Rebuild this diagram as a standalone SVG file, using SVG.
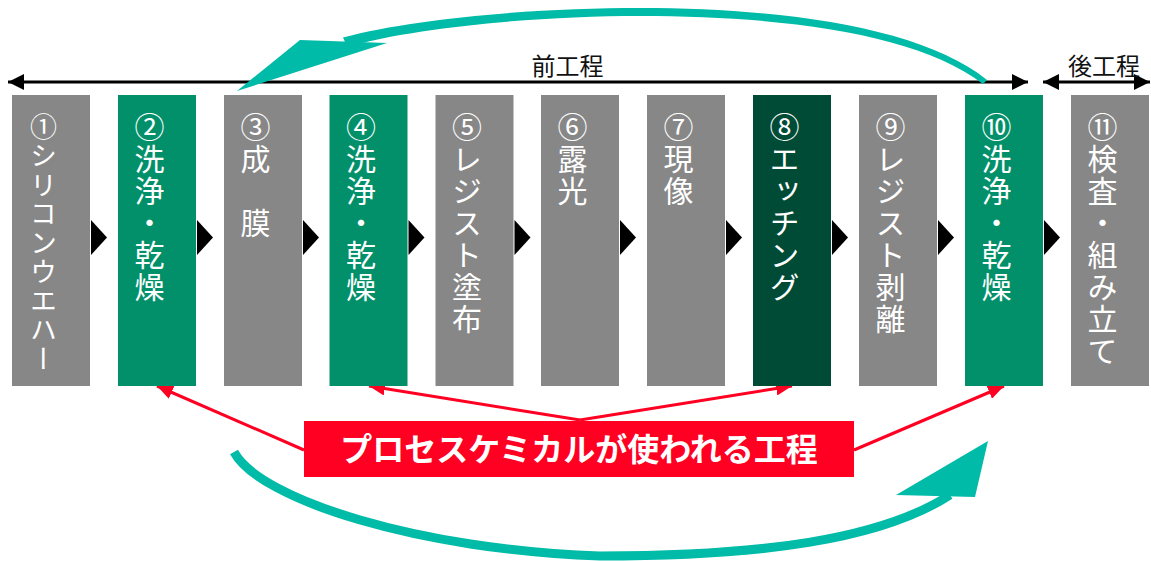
<svg xmlns="http://www.w3.org/2000/svg" width="1151" height="561" viewBox="0 0 1151 561">
<defs>
<style>
.node-grey{fill:#878787}
.node-green{fill:#02906A}
.node-dark{fill:#004B35}
.ntext{font-family:"Noto Sans CJK JP","Noto Sans",sans-serif;font-size:30px;fill:#ffffff;writing-mode:vertical-rl;text-orientation:upright;letter-spacing:2px}
.ntext-s{font-size:27px}
.lbl{font-family:"Noto Sans CJK JP","Noto Sans",sans-serif;font-size:24px;fill:#111111;text-anchor:middle;dominant-baseline:central}
.step{fill:#000000}
.axis{stroke:#000000;stroke-width:3;fill:none}
.red{stroke:#FF0022;stroke-width:3;fill:none;marker-end:url(#redHead)}
.teal{stroke:#00BBA7;fill:none;stroke-linecap:butt}
.teal-fill{fill:#00BBA7}
</style>
<marker id="redHead" markerUnits="userSpaceOnUse" viewBox="0 0 16 14" refX="16" refY="7" markerWidth="16" markerHeight="14" orient="auto">
<path d="M0,0 L16,7 L0,14 Z" fill="#FF0022"/>
</marker>
<marker id="blkHead" markerUnits="userSpaceOnUse" viewBox="0 0 16 16" refX="16" refY="8" markerWidth="16" markerHeight="16" orient="auto-start-reverse">
<path d="M0,0 L16,8 L0,16 Z" fill="#000000"/>
</marker>
</defs>

<g id="connectors">
<!-- axis arrows -->
<path class="axis" d="M8,82 L1028,82" marker-start="url(#blkHead)" marker-end="url(#blkHead)"/>
<path class="axis" d="M1043,82 L1150,82" marker-start="url(#blkHead)" marker-end="url(#blkHead)"/>
<!-- step triangles -->
<polygon class="step" points="91,220 107,237.5 91,255"/>
<polygon class="step" points="197,220 213,237.5 197,255"/>
<polygon class="step" points="303,220 319,237.5 303,255"/>
<polygon class="step" points="408.5,220 424.5,237.5 408.5,255"/>
<polygon class="step" points="514.5,220 530.5,237.5 514.5,255"/>
<polygon class="step" points="620,220 636,237.5 620,255"/>
<polygon class="step" points="726,220 742,237.5 726,255"/>
<polygon class="step" points="832,220 848,237.5 832,255"/>
<polygon class="step" points="938,220 954,237.5 938,255"/>
<polygon class="step" points="1044,220 1060,237.5 1044,255"/>
<!-- teal top arc (tapered band) -->
<path class="teal-fill" d="M987,80 C922,27 780,8 640,8 C540,8 418,17.5 343,37.5 L347,46.5 C422,26.5 540,16 640,16 C780,16 918,33 983,84 Z"/>
<polygon class="teal-fill" points="237,91 300,40 387,43"/>
<!-- teal bottom arc -->
<path class="teal" stroke-width="9" d="M234,452 C260,500 420,550 600,556 C760,556 880,540 950,495"/>
<polygon class="teal-fill" points="988,441 896,495 975,497"/>
<!-- red arrows -->
<path class="red" d="M304,450 L157,386"/>
<path class="red" d="M580,420 L369,386"/>
<path class="red" d="M580,420 L792,386"/>
<path class="red" d="M854,450 L1004,386"/>
</g>

<g id="label-front"><text class="lbl" x="567.5" y="64.5">前工程</text></g>
<g id="label-back"><text class="lbl" x="1104" y="64.5">後工程</text></g>

<g id="node1"><rect class="node-grey" x="12" y="95" width="78" height="291"/><text class="ntext ntext-s" x="43.5" y="113">①シリコンウエハー</text></g>
<g id="node2"><rect class="node-green" x="118" y="95" width="78" height="291"/><text class="ntext" x="149.5" y="112">②洗浄・乾燥</text></g>
<g id="node3"><rect class="node-grey" x="224" y="95" width="78" height="291"/><text class="ntext" x="255.5" y="112">③成　膜</text></g>
<g id="node4"><rect class="node-green" x="329.5" y="95" width="78" height="291"/><text class="ntext" x="361" y="112">④洗浄・乾燥</text></g>
<g id="node5"><rect class="node-grey" x="435.5" y="95" width="78" height="291"/><text class="ntext" x="467" y="112">⑤レジスト塗布</text></g>
<g id="node6"><rect class="node-grey" x="541" y="95" width="78" height="291"/><text class="ntext" x="572.5" y="112">⑥露光</text></g>
<g id="node7"><rect class="node-grey" x="647" y="95" width="78" height="291"/><text class="ntext" x="678.5" y="112">⑦現像</text></g>
<g id="node8"><rect class="node-dark" x="753" y="95" width="78" height="291"/><text class="ntext" x="784.5" y="112">⑧エッチング</text></g>
<g id="node9"><rect class="node-grey" x="859" y="95" width="78" height="291"/><text class="ntext" x="890.5" y="112">⑨レジスト剥離</text></g>
<g id="node10"><rect class="node-green" x="965" y="95" width="78" height="291"/><text class="ntext" x="996.5" y="112">⑩洗浄・乾燥</text></g>
<g id="node11"><rect class="node-grey" x="1071" y="95" width="78" height="291"/><text class="ntext" x="1102.5" y="112">⑪検査・組み立て</text></g>

<g id="process-chem-label">
<rect x="304" y="421" width="550" height="56" fill="#FF0022"/>
<text x="579" y="447" font-family="'Noto Sans CJK JP','Noto Sans',sans-serif" font-size="32" font-weight="bold" fill="#ffffff" text-anchor="middle" dominant-baseline="central">プロセスケミカルが使われる工程</text>
</g>
</svg>
